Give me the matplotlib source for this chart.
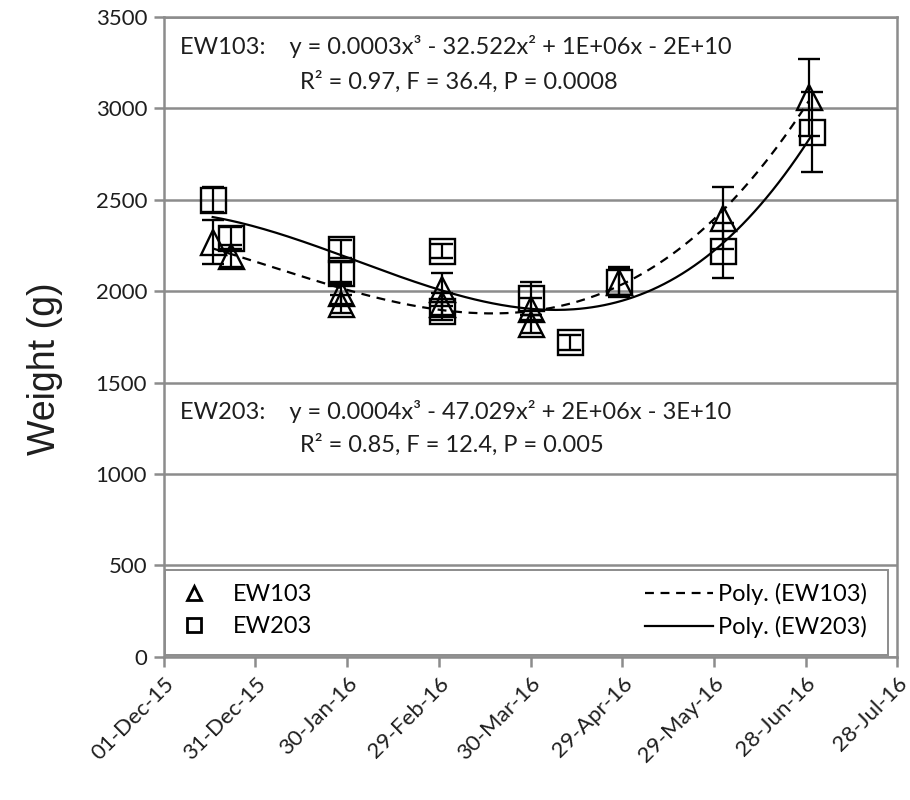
import matplotlib
matplotlib.use("Agg")
import matplotlib.pyplot as plt
import matplotlib.dates as mdates
from matplotlib.lines import Line2D
from matplotlib.patches import Rectangle
import numpy as np
import datetime as dt

# weights of the two groups (mean and error) per weighing date
ew103_dates = ["2015-12-17", "2015-12-23", "2016-01-28", "2016-01-28", "2016-03-01",
               "2016-03-01", "2016-03-30", "2016-03-30", "2016-04-28", "2016-06-01",
               "2016-06-29"]
ew103_weight = [2270, 2190, 1990, 1930, 2010, 1930, 1900, 1820, 2050, 2400, 3060]
ew103_err = [120, 60, 60, 50, 90, 60, 60, 50, 80, 170, 210]

ew203_dates = ["2015-12-17", "2015-12-23", "2016-01-28", "2016-01-28", "2016-03-01",
               "2016-03-01", "2016-03-30", "2016-04-12", "2016-04-28", "2016-06-01",
               "2016-06-30"]
ew203_weight = [2500, 2290, 2230, 2100, 2220, 1890, 1960, 1720, 2050, 2220, 2870]
ew203_err = [70, 60, 50, 60, 40, 50, 90, 40, 70, 150, 220]

txt103 = "EW103:    y = 0.0003x³ - 32.522x² + 1E+06x - 2E+10"
txt103b = "R² = 0.97, F = 36.4, P = 0.0008"
txt203 = "EW203:    y = 0.0004x³ - 47.029x² + 2E+06x - 3E+10"
txt203b = "R² = 0.85, F = 12.4, P = 0.005"

x_start = dt.date(2015, 12, 1)
x_end = dt.date(2016, 7, 28)

plt.rcParams['font.family'] = ['Lato', 'DejaVu Sans']

fig = plt.figure(figsize=(9.1, 8), dpi=100)
ax = fig.add_axes([0.180, 0.179, 0.806, 0.800])

grey = "#8c8c8c"
ink = "#1e1e1e"
fs = 17


def to_num(dates):
    return mdates.datestr2num(dates)


def trend(dates, w, style):
    # cubic trendline fitted to the series
    x = to_num(dates)
    x0 = x.min()
    c = np.polyfit(x - x0, w, 3)
    xs = np.linspace(x.min(), x.max(), 200)
    ax.plot(xs, np.polyval(c, xs - x0), color="black", ls=style, lw=1.6, zorder=4)


def series(dates, w, err, mk):
    ax.errorbar(to_num(dates), w, yerr=err, fmt=mk, ms=18, mfc="none", mec="black",
                mew=1.7, ecolor="black", elinewidth=1.6, capsize=8, capthick=1.6,
                zorder=3)


series(ew103_dates, ew103_weight, ew103_err, "^")
series(ew203_dates, ew203_weight, ew203_err, "s")
trend(ew103_dates, ew103_weight, (0, (4, 3)))
trend(ew203_dates, ew203_weight, "-")

ax.set_xlim(mdates.date2num(x_start), mdates.date2num(x_end))
ax.set_ylim(0, 3500)
ax.set_yticks(range(0, 3501, 500))
ticks = [mdates.date2num(x_start + dt.timedelta(days=30 * i)) for i in range(9)]
ax.set_xticks(ticks)
ax.xaxis.set_major_formatter(mdates.DateFormatter("%d-%b-%y"))
for lab in ax.get_xticklabels():
    lab.set_rotation(45)
    lab.set_ha("right")
    lab.set_rotation_mode("anchor")

ax.yaxis.grid(True, color=grey, lw=1.8)
ax.set_axisbelow(True)
for s in ax.spines.values():
    s.set_color(grey)
    s.set_linewidth(1.8)
ax.tick_params(axis="both", colors=grey, width=1.8, length=7, labelsize=16,
               labelcolor=ink, pad=5)

ax.set_ylabel("Weight (g)", fontsize=27, family="Liberation Sans", color=ink)
ax.yaxis.set_label_coords(-0.137, 0.45)

ax.text(0.022, 0.953, txt103, transform=ax.transAxes, fontsize=fs, color=ink, va="center")
ax.text(0.186, 0.898, txt103b, transform=ax.transAxes, fontsize=fs, color=ink, va="center")
ax.text(0.022, 0.383, txt203, transform=ax.transAxes, fontsize=fs, color=ink, va="center")
ax.text(0.186, 0.331, txt203b, transform=ax.transAxes, fontsize=fs, color=ink, va="center")

# legend: markers on the left, trendlines on the right, inside one frame
ax.add_patch(Rectangle((0.002, 0.003), 0.986, 0.133, transform=ax.transAxes,
                       facecolor="white", edgecolor=grey, lw=1.4, zorder=5))
mk_handles = [
    Line2D([], [], ls="none", marker="^", ms=10, mfc="none", mec="black", mew=2),
    Line2D([], [], ls="none", marker="s", ms=10, mfc="none", mec="black", mew=2),
]
ln_handles = [
    Line2D([], [], color="black", ls=(0, (4, 3)), lw=1.6),
    Line2D([], [], color="black", ls="-", lw=1.6),
]
leg1 = ax.legend(mk_handles, ["EW103", "EW203"], loc="center left",
                 bbox_to_anchor=(0.002, 0.072), fontsize=fs, frameon=False,
                 borderpad=0, borderaxespad=0, handlelength=2.4,
                 handletextpad=0.45, labelspacing=0.45)
leg1.set_zorder(6)
ax.add_artist(leg1)
leg2 = ax.legend(ln_handles, ["Poly. (EW103)", "Poly. (EW203)"], loc="center right",
                 bbox_to_anchor=(0.959, 0.072), fontsize=fs, frameon=False,
                 borderpad=0, borderaxespad=0, handlelength=2.9,
                 handletextpad=0.2, labelspacing=0.45)
leg2.set_zorder(6)

fig.savefig("out.png", dpi=100)
